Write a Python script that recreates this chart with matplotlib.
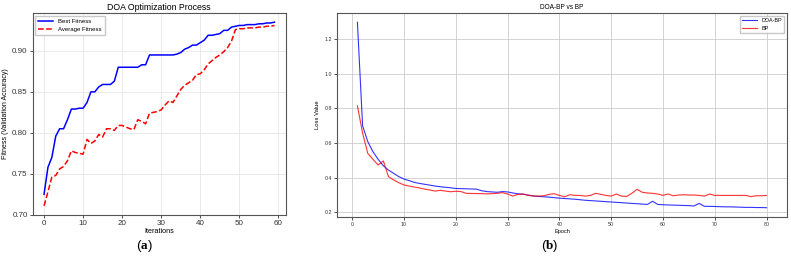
import matplotlib
matplotlib.use("Agg")
import matplotlib.pyplot as plt
import numpy as np

# (a) DOA optimization process
iterations = list(range(60))
best_fitness = [0.725, 0.758, 0.770, 0.796, 0.805, 0.805, 0.816, 0.829, 0.829, 0.830,
                0.830, 0.837, 0.850, 0.850, 0.856, 0.859, 0.859, 0.859, 0.863, 0.880,
                0.880, 0.880, 0.880, 0.880, 0.880, 0.883, 0.883, 0.895, 0.895, 0.895,
                0.895, 0.895, 0.895, 0.895, 0.896, 0.898, 0.902, 0.904, 0.907, 0.907,
                0.910, 0.913, 0.919, 0.919, 0.920, 0.921, 0.925, 0.925, 0.929, 0.930,
                0.931, 0.931, 0.932, 0.932, 0.932, 0.933, 0.933, 0.934, 0.934, 0.935]
avg_fitness = [0.711, 0.728, 0.746, 0.748, 0.756, 0.759, 0.766, 0.778, 0.776, 0.775,
               0.774, 0.792, 0.787, 0.790, 0.798, 0.795, 0.805, 0.805, 0.803, 0.809,
               0.809, 0.807, 0.805, 0.804, 0.816, 0.814, 0.811, 0.824, 0.825, 0.826,
               0.828, 0.834, 0.839, 0.837, 0.845, 0.853, 0.858, 0.861, 0.864, 0.871,
               0.872, 0.877, 0.884, 0.888, 0.892, 0.895, 0.899, 0.904, 0.912, 0.926,
               0.927, 0.927, 0.928, 0.928, 0.928, 0.929, 0.929, 0.930, 0.930, 0.931]

# (b) loss curves
epochs = list(range(1, 81))
loss_doa_bp = [1.296, 0.699, 0.608, 0.550, 0.506, 0.469, 0.444, 0.425, 0.406, 0.392,
               0.383, 0.373, 0.367, 0.362, 0.357, 0.352, 0.348, 0.345, 0.342, 0.338,
               0.337, 0.336, 0.335, 0.334, 0.325, 0.320, 0.318, 0.316, 0.320, 0.318,
               0.312, 0.307, 0.305, 0.300, 0.295, 0.292, 0.290, 0.288, 0.285, 0.282,
               0.280, 0.278, 0.276, 0.273, 0.270, 0.268, 0.266, 0.264, 0.262, 0.260,
               0.258, 0.256, 0.254, 0.252, 0.250, 0.248, 0.246, 0.264, 0.246, 0.244,
               0.243, 0.242, 0.241, 0.240, 0.239, 0.237, 0.252, 0.235, 0.235, 0.234,
               0.233, 0.232, 0.232, 0.231, 0.230, 0.229, 0.229, 0.228, 0.228, 0.227]
loss_bp = [0.814, 0.657, 0.540, 0.506, 0.473, 0.497, 0.406, 0.387, 0.371, 0.358,
           0.352, 0.346, 0.341, 0.334, 0.329, 0.323, 0.327, 0.323, 0.319, 0.322,
           0.320, 0.310, 0.309, 0.309, 0.308, 0.307, 0.308, 0.310, 0.314, 0.306,
           0.294, 0.304, 0.306, 0.298, 0.294, 0.294, 0.296, 0.304, 0.308, 0.298,
           0.290, 0.302, 0.298, 0.298, 0.294, 0.298, 0.310, 0.304, 0.298, 0.294,
           0.306, 0.294, 0.292, 0.310, 0.333, 0.316, 0.312, 0.310, 0.306, 0.298,
           0.306, 0.296, 0.300, 0.302, 0.300, 0.300, 0.298, 0.294, 0.306, 0.298,
           0.298, 0.298, 0.298, 0.298, 0.298, 0.298, 0.291, 0.296, 0.296, 0.298]

plt.rcParams['font.family'] = ['Liberation Sans', 'DejaVu Sans']
plt.rcParams['mathtext.fontset'] = 'custom'
plt.rcParams['mathtext.rm'] = 'Liberation Serif'
plt.rcParams['mathtext.bf'] = 'Liberation Serif:bold'

fig = plt.figure(figsize=(7.91, 2.67), dpi=100)

def style_axes(ax, grid_color, tick_size):
    for s in ax.spines.values():
        s.set_color('#555555')
        s.set_linewidth(0.8)
    ax.grid(True, color=grid_color, linewidth=0.6)
    ax.set_axisbelow(True)
    ax.tick_params(labelsize=tick_size, length=2, width=0.6, pad=1.5, colors='#333333')

# panel (a)
ax1 = fig.add_axes([0.0411, 0.1948, 0.3205, 0.7566])
ax1.plot(iterations, best_fitness, 'b-', lw=1.1, label='Best Fitness')
ax1.plot(iterations, avg_fitness, 'r--', lw=1.1, label='Average Fitness')
ax1.set_title('DOA Optimization Process', fontsize=6.3, pad=2)
ax1.set_xlabel('Iterations', fontsize=5.2, labelpad=1)
ax1.set_ylabel('Fitness (Validation Accuracy)', fontsize=5.0, labelpad=2)
ax1.set_yticks([0.70, 0.75, 0.80, 0.85, 0.90])
style_axes(ax1, '#e6e6e6', 5.8)
ax1.legend(loc='upper left', fontsize=4.3, frameon=True, edgecolor='#bbbbbb',
           handlelength=2.5, borderpad=0.5, labelspacing=0.4, fancybox=False)

# panel (b)
ax2 = fig.add_axes([0.4260, 0.1873, 0.5689, 0.764])
ax2.plot(epochs, loss_doa_bp, color='blue', alpha=0.8, lw=0.8, label='DOA-BP')
ax2.plot(epochs, loss_bp, color='red', alpha=0.8, lw=0.8, label='BP')
ax2.set_title('DOA-BP vs BP', fontsize=4.7, pad=3)
ax2.set_xlabel('Epoch', fontsize=4.0, labelpad=1.5)
ax2.set_ylabel('Loss Value', fontsize=4.2, labelpad=3)
ax2.set_yticks([0.2, 0.4, 0.6, 0.8, 1.0, 1.2])
style_axes(ax2, '#cccccc', 3.8)
ax2.legend(loc='upper right', fontsize=3.9, frameon=True, edgecolor='#bbbbbb',
           handlelength=2.8, fancybox=False)

fig.text(0.183, 0.079, r'($\mathbf{a}$)', fontsize=9.5, ha='center', va='center')
fig.text(0.695, 0.079, r'($\mathbf{b}$)', fontsize=9.5, ha='center', va='center')

fig.savefig('out.png', dpi=100)
